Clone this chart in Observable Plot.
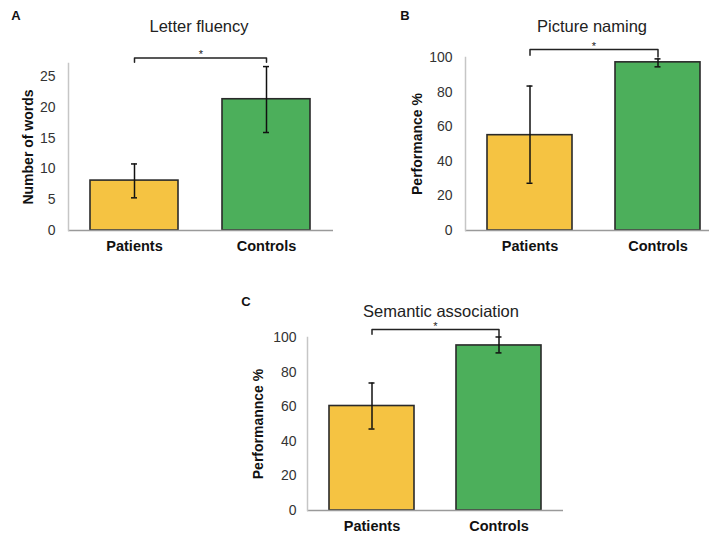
<!DOCTYPE html>
<html><head><meta charset="utf-8">
<script src="https://cdn.jsdelivr.net/npm/d3@7"></script>
<script src="https://cdn.jsdelivr.net/npm/@observablehq/plot@0.6"></script>
<style>
html,body{margin:0;padding:0;overflow:hidden;background:#fff;}
#root{position:relative;width:709px;height:535px;overflow:hidden;font-family:"Liberation Sans",Arial,Helvetica,sans-serif;}
.letter{position:absolute;font-weight:bold;font-size:13px;color:#111;transform:translate(-50%,-50%);line-height:1;}
.title{position:absolute;font-size:16.5px;color:#222;transform:translate(-50%,-50%);white-space:nowrap;line-height:1;}
</style></head><body><div id="root"></div>
<script>
// ---- data ----
const groups = ["Patients", "Controls"];
const barColors = ["#F5C342", "#4CAF5B"];
const panelLetters = ["A", "B", "C"];
const panelTitles = ["Letter fluency", "Picture naming", "Semantic association"];
const yLabels = ["Number of words", "Performance %", "Performannce %"];
const sigLabel = "*";

const fluencyMean = [8.1, 21.3];
const fluencyLo = [5.3, 15.9];
const fluencyHi = [10.8, 26.6];
const fluencyTicks = [0, 5, 10, 15, 20, 25];
const fluencyBracket = 28.0;
const fluencyBracketEnds = [27.3, 27.3];

const namingMean = [55.1, 97.2];
const namingLo = [27.3, 94.6];
const namingHi = [83.5, 99.2];
const percentTicks = [0, 20, 40, 60, 80, 100];
const namingBracket = 104.6;
const namingBracketEnds = [101.3, 100.3];

const semanticMean = [60.4, 95.4];
const semanticLo = [47.1, 91.1];
const semanticHi = [73.7, 100.3];
const semanticBracket = 104.6;
const semanticBracketEnds = [101.9, 100.5];

// ---- layout (positions / sizes only) ----
const layouts = [
  {left: 0, top: 0, w: 340, h: 265, ml: 68, mr: 7, mt: 63, mb: 35, ymax: 27.1, tp: 13, ldx: -40, capInset: 41,
   letter: [16, 15], title: [199, 26]},
  {left: 380, top: 0, w: 350, h: 265, ml: 85, mr: 8, mt: 57, mb: 35, ymax: 100, tp: 13, ldx: -48, capInset: 39.5,
   letter: [405, 15], title: [592, 26]},
  {left: 200, top: 280, w: 370, h: 255, ml: 107, mr: 7, mt: 57, mb: 25, ymax: 100, tp: 11, ldx: -49, capInset: 39.5,
   letter: [246, 301], title: [441, 311]}
];

const FONT = '"Liberation Sans", Arial, Helvetica, sans-serif';
const root = document.getElementById("root");

function panel(idx, mean, lo, hi, ticks, bracket, ends) {
  const cfg = layouts[idx];
  const rows = groups.map((g, i) => ({group: g, mean: mean[i], lo: lo[i], hi: hi[i], color: barColors[i]}));
  const bracketPath = [
    {group: groups[0], y: ends[0]},
    {group: groups[0], y: bracket},
    {group: groups[1], y: bracket},
    {group: groups[1], y: ends[1]}
  ];
  const chart = Plot.plot({
    width: cfg.w, height: cfg.h,
    marginLeft: cfg.ml, marginRight: cfg.mr, marginTop: cfg.mt, marginBottom: cfg.mb,
    style: {fontFamily: FONT, fontSize: "14px", color: "#333", background: "transparent", overflow: "visible"},
    x: {domain: groups, paddingInner: 0.333, paddingOuter: 0.17, label: null},
    y: {domain: [0, cfg.ymax], label: null},
    color: {type: "identity"},
    marks: [
      Plot.barY(rows, {x: "group", y: "mean", fill: "color", stroke: "#2a2a2a", strokeWidth: 1.6}),
      Plot.ruleY([0], {stroke: "#9a9a9a", strokeWidth: 1.5}),
      Plot.frame({anchor: "left", stroke: "#c6c6c6", strokeWidth: 1.5}),
      Plot.ruleX(rows, {x: "group", y1: "lo", y2: "hi", stroke: "#111", strokeWidth: 1.5}),
      Plot.tickY(rows, {x: "group", y: "lo", stroke: "#111", strokeWidth: 1.5, insetLeft: cfg.capInset, insetRight: cfg.capInset}),
      Plot.tickY(rows, {x: "group", y: "hi", stroke: "#111", strokeWidth: 1.5, insetLeft: cfg.capInset, insetRight: cfg.capInset}),
      Plot.line(bracketPath, {x: "group", y: "y", stroke: "#222", strokeWidth: 1.5}),
      Plot.text([sigLabel], {text: d => d, y: [bracket], dy: -3, fontSize: 11, fill: "#222"}),
      Plot.axisY({ticks: ticks, tickSize: 0, tickPadding: cfg.tp, fontSize: 14, label: null}),
      Plot.axisX({tickSize: 0, tickPadding: 10, fontWeight: "bold", fontSize: 14.5, fill: "#111", label: null}),
      Plot.text([yLabels[idx]], {text: d => d, frameAnchor: "left", textAnchor: "middle", lineAnchor: "middle", rotate: -90, dx: cfg.ldx, fontWeight: "bold", fontSize: 14, fill: "#111"})
    ]
  });
  chart.style.position = "absolute";
  chart.style.left = cfg.left + "px";
  chart.style.top = cfg.top + "px";
  chart.style.maxWidth = "none";
  root.appendChild(chart);

  const letter = document.createElement("div");
  letter.className = "letter";
  letter.textContent = panelLetters[idx];
  letter.style.left = cfg.letter[0] + "px";
  letter.style.top = cfg.letter[1] + "px";
  root.appendChild(letter);

  const title = document.createElement("div");
  title.className = "title";
  title.textContent = panelTitles[idx];
  title.style.left = cfg.title[0] + "px";
  title.style.top = cfg.title[1] + "px";
  root.appendChild(title);
}

panel(0, fluencyMean, fluencyLo, fluencyHi, fluencyTicks, fluencyBracket, fluencyBracketEnds);
panel(1, namingMean, namingLo, namingHi, percentTicks, namingBracket, namingBracketEnds);
panel(2, semanticMean, semanticLo, semanticHi, percentTicks, semanticBracket, semanticBracketEnds);
</script>
</body></html>
